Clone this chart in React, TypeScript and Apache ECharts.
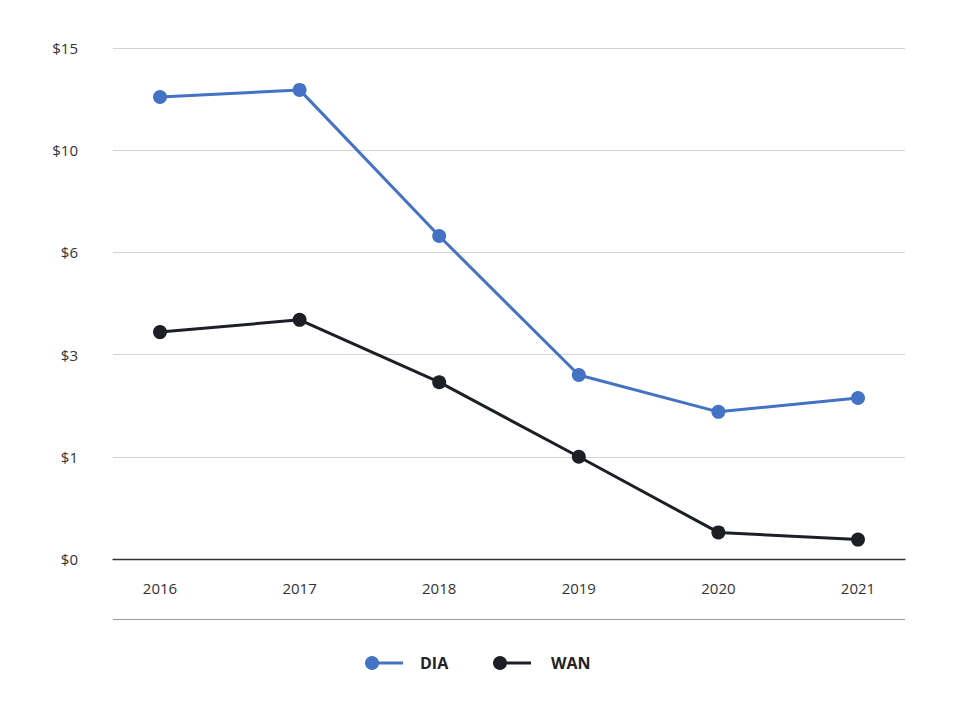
import React, { useEffect, useRef } from "react";
import * as echarts from "echarts";

const years = ["2016", "2017", "2018", "2019", "2020", "2021"];
const diaValues = [12.6, 12.95, 6.64, 2.6, 1.88, 2.15];
const wanValues = [3.66, 4.02, 2.46, 1.0, 0.26, 0.19];
const tickValues = [0, 1, 3, 6, 10, 15];
const tickLabels = ["$0", "$1", "$3", "$6", "$10", "$15"];
const seriesNames = ["DIA", "WAN"];
const colors = ["#4472c4", "#1c2026"];

// piecewise mapping of the equally spaced (non-linear) axis
function toUnit(v: number): number {
  for (let i = 0; i < tickValues.length - 1; i++) {
    const a = tickValues[i];
    const b = tickValues[i + 1];
    if (v <= b) return i + (v - a) / (b - a);
  }
  return tickValues.length - 1;
}

const FONT = "'Open Sans', sans-serif";

export default function App() {
  const ref = useRef<HTMLDivElement>(null);
  useEffect(() => {
    if (!ref.current) return;
    const chart = echarts.init(ref.current, undefined, { renderer: "svg" });
    chart.setOption({
      animation: false,
      backgroundColor: "#ffffff",
      textStyle: { fontFamily: FONT },
      grid: [
        { left: 113, right: 52, top: 48, height: 511 },
        { left: 160, right: 99, top: 48, height: 511 },
      ],
      xAxis: [
        {
          type: "value",
          gridIndex: 0,
          min: 0,
          max: 1,
          axisLine: { show: true, lineStyle: { color: "#333333", width: 1.3 } },
          axisTick: { show: false },
          axisLabel: { show: false },
          splitLine: { show: false },
        },
        {
          type: "category",
          gridIndex: 1,
          data: years,
          boundaryGap: false,
          axisLine: { show: false },
          axisTick: { show: false },
          axisLabel: { color: "#333333", fontSize: 15, margin: 21, fontFamily: FONT },
        },
      ],
      yAxis: [
        {
          type: "value",
          gridIndex: 0,
          min: 0,
          max: tickValues.length - 1,
          interval: 1,
          axisLine: { show: false },
          axisTick: { show: false },
          axisLabel: {
            color: "#333333",
            fontSize: 15,
            margin: 35,
            align: "right",
            fontFamily: FONT,
            formatter: (v: number) => tickLabels[Math.round(v)] ?? "",
          },
          splitLine: { show: true, lineStyle: { color: "#d4d4d4", width: 1 } },
        },
        {
          type: "value",
          gridIndex: 1,
          min: 0,
          max: tickValues.length - 1,
          interval: 1,
          show: false,
        },
      ],
      series: [
        {
          name: seriesNames[0],
          type: "line",
          xAxisIndex: 1,
          yAxisIndex: 1,
          data: diaValues.map(toUnit),
          color: colors[0],
          lineStyle: { width: 3, color: colors[0] },
          symbol: "circle",
          symbolSize: 14,
          itemStyle: { color: colors[0] },
        },
        {
          name: seriesNames[1],
          type: "line",
          xAxisIndex: 1,
          yAxisIndex: 1,
          data: wanValues.map(toUnit),
          color: colors[1],
          lineStyle: { width: 3, color: colors[1] },
          symbol: "circle",
          symbolSize: 14,
          itemStyle: { color: colors[1] },
        },
      ],
      graphic: [
        {
          type: "line",
          shape: { x1: 113, y1: 619.5, x2: 905, y2: 619.5 },
          style: { stroke: "#9a9a9a", lineWidth: 1 },
        },
        {
          type: "line",
          shape: { x1: 372, y1: 663, x2: 403, y2: 663 },
          style: { stroke: colors[0], lineWidth: 3 },
        },
        { type: "circle", shape: { cx: 372, cy: 663, r: 7 }, style: { fill: colors[0] } },
        {
          type: "text",
          x: 420,
          y: 663,
          style: {
            text: seriesNames[0],
            fill: "#222222",
            font: `bold 16px ${FONT}`,
            verticalAlign: "middle",
          },
        },
        {
          type: "line",
          shape: { x1: 500, y1: 663, x2: 531, y2: 663 },
          style: { stroke: colors[1], lineWidth: 3 },
        },
        { type: "circle", shape: { cx: 500, cy: 663, r: 7 }, style: { fill: colors[1] } },
        {
          type: "text",
          x: 551,
          y: 663,
          style: {
            text: seriesNames[1],
            fill: "#222222",
            font: `bold 16px ${FONT}`,
            verticalAlign: "middle",
          },
        },
      ],
    });
    return () => chart.dispose();
  }, []);
  return (
    <div
      ref={ref}
      style={{ width: 957, height: 713, position: "absolute", left: 0, top: 0 }}
    />
  );
}
